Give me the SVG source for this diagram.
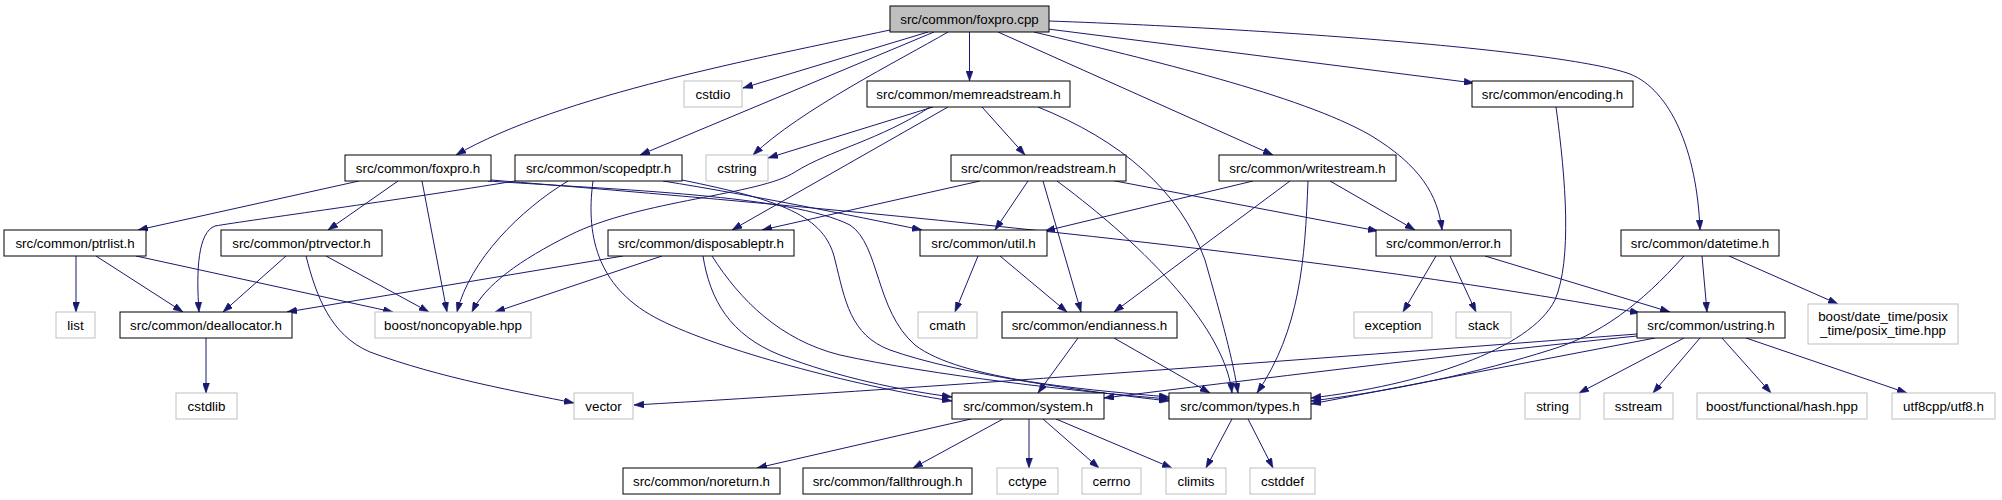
<svg xmlns="http://www.w3.org/2000/svg" width="2002" height="500" viewBox="0 0 2002 500">
<defs>
<marker id="a" viewBox="0 0 10 7" refX="10" refY="3.5" markerWidth="10" markerHeight="7" markerUnits="userSpaceOnUse" orient="auto">
<path d="M0,0 L10,3.5 L0,7 z" fill="#191970" stroke="#191970" stroke-width="0.5"/>
</marker>
</defs>
<style>
.n rect{fill:#fff;stroke:#000;stroke-width:1}
.x rect{fill:#fff;stroke:#bfbfbf;stroke-width:1}
.r rect{fill:#bfbfbf;stroke:#000;stroke-width:1}
text{font-family:"Liberation Sans",Arial,Helvetica,sans-serif;font-size:13.33px;text-anchor:middle;fill:#000}
#edges path{fill:none;stroke:#191970;stroke-width:1;marker-end:url(#a)}
</style>
<rect x="0" y="0" width="2002" height="500" fill="#fff"/>
<g id="edges">
<path d="M890,30 C760,58 560,95 456,155"/>
<path d="M928,32 L743,88"/>
<path d="M934,32 L640,155"/>
<path d="M948,32 C900,60 800,110 753,155"/>
<path d="M969.5,32 L969.5,81"/>
<path d="M998,32 L1273,155"/>
<path d="M1034,32 C1150,60 1300,95 1370,135 C1420,165 1438,195 1442,230"/>
<path d="M1040,28 L1474,83"/>
<path d="M1049,21 C1300,30 1570,52 1630,74 C1670,90 1697,150 1700,230"/>
<path d="M933,107 L768,158"/>
<path d="M930,107 C880,140 830,150 795,172 C760,195 640,200 570,235 C520,260 485,285 472,312"/>
<path d="M948,107 L732,230"/>
<path d="M982,107 L1025,155"/>
<path d="M1038,107 C1120,140 1180,190 1205,260 C1222,320 1233,360 1238,393"/>
<path d="M359,181 L138,230"/>
<path d="M398,181 L328,230"/>
<path d="M422,181 L447,312"/>
<path d="M491,180 C800,205 1300,250 1640,313"/>
<path d="M488,181 C620,190 790,195 850,225 C880,245 875,310 915,345 C960,380 1090,390 1169,397"/>
<path d="M515,181 C400,200 250,220 215,226 C198,232 196,270 199,312"/>
<path d="M568,181 C520,210 470,260 457,312"/>
<path d="M593,181 C585,240 600,290 660,320 C720,350 850,385 952,401"/>
<path d="M663,181 C750,195 850,215 922,230"/>
<path d="M682,180 C780,200 825,215 835,260 C845,300 850,335 890,350 C960,375 1090,392 1169,401"/>
<path d="M980,181 L762,230"/>
<path d="M1028,181 L995,230"/>
<path d="M1043,181 L1081,312"/>
<path d="M1057,181 C1150,250 1225,330 1232,393"/>
<path d="M1110,180 L1378,231"/>
<path d="M1253,181 L1045,231"/>
<path d="M1290,181 L1114,312"/>
<path d="M1308,181 C1305,260 1300,330 1257,393"/>
<path d="M1330,181 L1415,230"/>
<path d="M1556,107 C1566,180 1572,260 1555,300 C1530,350 1420,385 1311,398"/>
<path d="M76,256 L76,312"/>
<path d="M96,256 L183,312"/>
<path d="M136,256 L393,312"/>
<path d="M286,256 L223,312"/>
<path d="M326,256 L429,312"/>
<path d="M306,256 C316,295 330,335 370,352 C440,378 520,392 574,403"/>
<path d="M623,256 L287,312"/>
<path d="M662,256 L495,312"/>
<path d="M703,256 C710,300 730,335 780,355 C840,378 900,390 952,397"/>
<path d="M712,256 C740,300 780,340 840,355 C930,375 1080,392 1169,399"/>
<path d="M978,256 L955,312"/>
<path d="M1000,256 L1067,312"/>
<path d="M1436,256 L1403,312"/>
<path d="M1450,256 L1476,312"/>
<path d="M1485,256 L1670,312"/>
<path d="M1684,256 C1640,305 1600,335 1550,350 C1480,372 1400,390 1311,401"/>
<path d="M1702,256 L1707,312"/>
<path d="M1729,256 L1838,304"/>
<path d="M206,338 L206,393"/>
<path d="M1078,338 L1038,393"/>
<path d="M1114,338 L1210,393"/>
<path d="M1637,334 C1300,360 900,390 634,405"/>
<path d="M1637,336 C1450,355 1250,380 1104,398"/>
<path d="M1655,338 L1311,404"/>
<path d="M1684,338 L1579,393"/>
<path d="M1700,338 L1653,393"/>
<path d="M1722,338 L1771,393"/>
<path d="M1746,338 L1907,393"/>
<path d="M971,419 L757,468"/>
<path d="M1003,419 L913,468"/>
<path d="M1029,419 L1029,468"/>
<path d="M1043,419 L1099,468"/>
<path d="M1056,419 L1172,468"/>
<path d="M1232,419 L1206,468"/>
<path d="M1248,419 L1273,468"/>
</g>
<g id="foxpro_cpp" class="r"><rect x="890" y="6" width="159" height="26"/><text x="969.5" y="23.5">src/common/foxpro.cpp</text></g>
<g id="cstdio" class="x"><rect x="684" y="81" width="58" height="26"/><text x="713" y="98.5">cstdio</text></g>
<g id="memreadstream_h" class="n"><rect x="867" y="81" width="203" height="26"/><text x="968.5" y="98.5">src/common/memreadstream.h</text></g>
<g id="encoding_h" class="n"><rect x="1472" y="81" width="161" height="26"/><text x="1552.5" y="98.5">src/common/encoding.h</text></g>
<g id="foxpro_h" class="n"><rect x="345" y="155" width="146" height="26"/><text x="418" y="172.5">src/common/foxpro.h</text></g>
<g id="scopedptr_h" class="n"><rect x="515" y="155" width="167" height="26"/><text x="598.5" y="172.5">src/common/scopedptr.h</text></g>
<g id="cstring" class="x"><rect x="706" y="155" width="62" height="26"/><text x="737" y="172.5">cstring</text></g>
<g id="readstream_h" class="n"><rect x="951" y="155" width="175" height="26"/><text x="1038.5" y="172.5">src/common/readstream.h</text></g>
<g id="writestream_h" class="n"><rect x="1219" y="155" width="177" height="26"/><text x="1307.5" y="172.5">src/common/writestream.h</text></g>
<g id="ptrlist_h" class="n"><rect x="4" y="230" width="142" height="26"/><text x="75" y="247.5">src/common/ptrlist.h</text></g>
<g id="ptrvector_h" class="n"><rect x="221" y="230" width="161" height="26"/><text x="301.5" y="247.5">src/common/ptrvector.h</text></g>
<g id="disposableptr_h" class="n"><rect x="608" y="230" width="186" height="26"/><text x="701" y="247.5">src/common/disposableptr.h</text></g>
<g id="util_h" class="n"><rect x="920" y="230" width="127" height="26"/><text x="983.5" y="247.5">src/common/util.h</text></g>
<g id="error_h" class="n"><rect x="1376" y="230" width="135" height="26"/><text x="1443.5" y="247.5">src/common/error.h</text></g>
<g id="datetime_h" class="n"><rect x="1621" y="230" width="158" height="26"/><text x="1700" y="247.5">src/common/datetime.h</text></g>
<g id="list" class="x"><rect x="56" y="312" width="39" height="26"/><text x="75.5" y="329.5">list</text></g>
<g id="deallocator_h" class="n"><rect x="120" y="312" width="172" height="26"/><text x="206" y="329.5">src/common/deallocator.h</text></g>
<g id="noncopyable_hpp" class="x"><rect x="375" y="312" width="156" height="26"/><text x="453" y="329.5">boost/noncopyable.hpp</text></g>
<g id="cmath" class="x"><rect x="918" y="312" width="59" height="26"/><text x="947.5" y="329.5">cmath</text></g>
<g id="endianness_h" class="n"><rect x="1002" y="312" width="175" height="26"/><text x="1089.5" y="329.5">src/common/endianness.h</text></g>
<g id="exception" class="x"><rect x="1354" y="312" width="78" height="26"/><text x="1393" y="329.5">exception</text></g>
<g id="stack" class="x"><rect x="1456" y="312" width="55" height="26"/><text x="1483.5" y="329.5">stack</text></g>
<g id="ustring_h" class="n"><rect x="1637" y="312" width="148" height="26"/><text x="1711" y="329.5">src/common/ustring.h</text></g>
<g id="posix_time_hpp" class="x"><rect x="1808" y="304" width="150" height="40"/><text x="1883" y="321">boost/date_time/posix</text><text x="1883" y="335">_time/posix_time.hpp</text></g>
<g id="cstdlib" class="x"><rect x="176" y="393" width="61" height="26"/><text x="206.5" y="410.5">cstdlib</text></g>
<g id="vector" class="x"><rect x="574" y="393" width="59" height="26"/><text x="603.5" y="410.5">vector</text></g>
<g id="system_h" class="n"><rect x="952" y="393" width="152" height="26"/><text x="1028" y="410.5">src/common/system.h</text></g>
<g id="types_h" class="n"><rect x="1169" y="393" width="142" height="26"/><text x="1240" y="410.5">src/common/types.h</text></g>
<g id="string" class="x"><rect x="1525" y="393" width="55" height="26"/><text x="1552.5" y="410.5">string</text></g>
<g id="sstream" class="x"><rect x="1604" y="393" width="69" height="26"/><text x="1638.5" y="410.5">sstream</text></g>
<g id="hash_hpp" class="x"><rect x="1697" y="393" width="170" height="26"/><text x="1782" y="410.5">boost/functional/hash.hpp</text></g>
<g id="utf8_h" class="x"><rect x="1892" y="393" width="103" height="26"/><text x="1943.5" y="410.5">utf8cpp/utf8.h</text></g>
<g id="noreturn_h" class="n"><rect x="623" y="468" width="157" height="26"/><text x="701.5" y="485.5">src/common/noreturn.h</text></g>
<g id="fallthrough_h" class="n"><rect x="803" y="468" width="169" height="26"/><text x="887.5" y="485.5">src/common/fallthrough.h</text></g>
<g id="cctype" class="x"><rect x="997" y="468" width="61" height="26"/><text x="1027.5" y="485.5">cctype</text></g>
<g id="cerrno" class="x"><rect x="1082" y="468" width="59" height="26"/><text x="1111.5" y="485.5">cerrno</text></g>
<g id="climits" class="x"><rect x="1166" y="468" width="60" height="26"/><text x="1196" y="485.5">climits</text></g>
<g id="cstddef" class="x"><rect x="1250" y="468" width="65" height="26"/><text x="1282.5" y="485.5">cstddef</text></g>
</svg>
